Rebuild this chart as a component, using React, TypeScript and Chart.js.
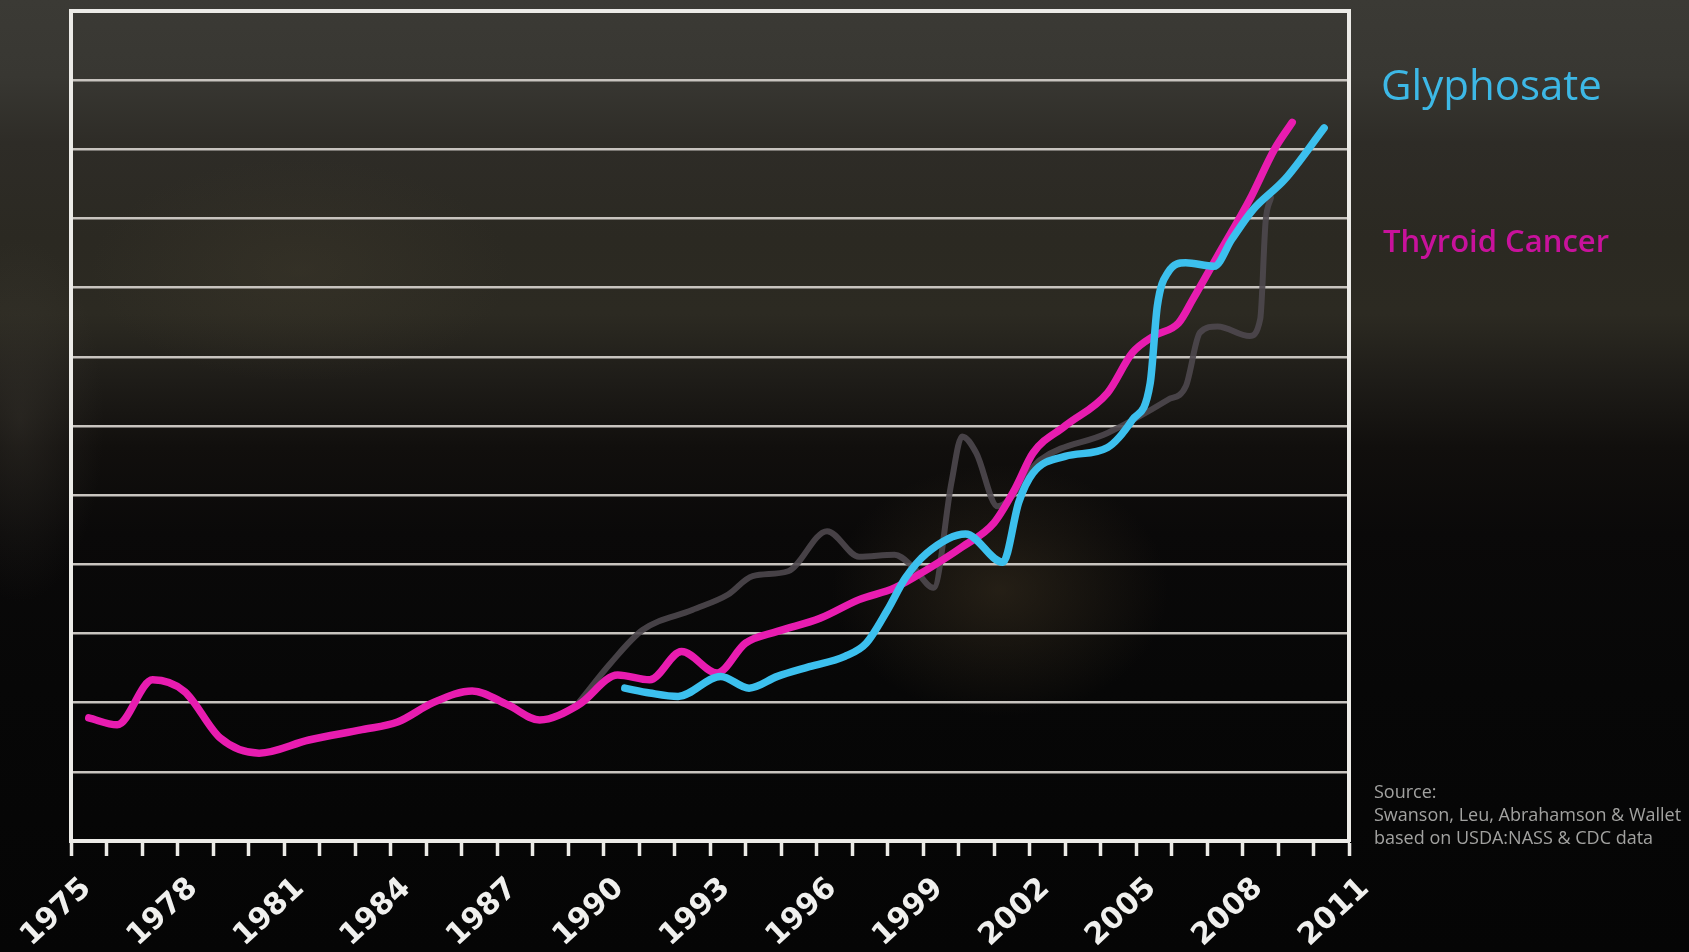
import React, { useEffect, useRef } from 'react';
import { Chart, registerables } from 'chart.js';

Chart.register(...registerables);

// ---------- data ----------
const xTickLabels = ['1975', '1978', '1981', '1984', '1987', '1990', '1993', '1996', '1999', '2002', '2005', '2008', '2011'];

const thyroidYears = [
  1975.5, 1976.3, 1977.3, 1978.2, 1979.2, 1980.3, 1981.7, 1983.2, 1984.2, 1985.2,
  1986.3, 1987.3, 1988.2, 1989.3, 1990.4, 1991.3, 1992.2, 1993.2, 1994.0, 1994.9,
  1996.1, 1997.2, 1998.2, 1999.1, 2000.1, 2001.0, 2001.6, 2002.1, 2003.0, 2004.2,
  2004.9, 2005.5, 2006.2, 2006.6, 2007.3, 2008.2, 2008.9, 2009.4,
];
const thyroidValues = [
  1.78, 1.68, 2.33, 2.16, 1.49, 1.27, 1.46, 1.61, 1.72, 2.0,
  2.17, 1.97, 1.75, 1.97, 2.4, 2.33, 2.74, 2.43, 2.86, 3.03,
  3.22, 3.49, 3.66, 3.92, 4.25, 4.6, 5.1, 5.61, 6.0, 6.48,
  7.06, 7.3, 7.49, 7.83, 8.46, 9.27, 10.0, 10.39,
];

const glyphosateYears = [
  1990.6, 1991.3, 1992.1, 1993.3, 1994.1, 1994.9, 1995.8, 1996.8, 1997.4, 1998.0,
  1998.5, 1999.1, 2000.2, 2001.25, 2001.7, 2002.1, 2003.0, 2004.2, 2004.9, 2005.4,
  2005.6, 2005.9, 2006.4, 2007.2, 2007.7, 2008.3, 2009.2, 2010.3,
];
const glyphosateValues = [
  2.21, 2.14, 2.09, 2.38, 2.21, 2.38, 2.52, 2.67, 2.86, 3.34,
  3.8, 4.16, 4.44, 4.03, 4.9, 5.32, 5.56, 5.69, 6.09, 6.62,
  7.73, 8.22, 8.36, 8.31, 8.7, 9.13, 9.57, 10.31,
];

const ghostYears = [
  1989.3, 1990.2, 1991.1, 1992.5, 1993.5, 1994.2, 1995.2, 1996.3, 1997.2, 1998.2,
  1998.7, 1999.3, 1999.8, 2000.1, 2000.5, 2001.1, 2002.3, 2004.2, 2005.9, 2006.4,
  2006.8, 2007.3, 2008.2, 2008.5, 2008.65, 2008.8,
];
const ghostValues = [
  2.0, 2.57, 3.05, 3.34, 3.56, 3.83, 3.9, 4.48, 4.11, 4.14,
  3.97, 3.66, 5.18, 5.85, 5.61, 4.84, 5.51, 5.9, 6.38, 6.57,
  7.35, 7.44, 7.3, 7.55, 8.95, 9.3,
];

const yMin = 0;
const yMax = 12;

const toPoints = (xs: number[], ys: number[]) => xs.map((x, i) => ({ x, y: ys[i] }));

export default function App() {
  const canvasRef = useRef<HTMLCanvasElement | null>(null);

  useEffect(() => {
    document.body.style.margin = '0';
    const canvas = canvasRef.current;
    if (!canvas) return;
    const white = '#ecebe7';
    const lineCommon = {
      pointRadius: 0,
      cubicInterpolationMode: 'monotone',
      borderCapStyle: 'round',
      borderJoinStyle: 'round',
    };
    const chart = new Chart(canvas, {
      type: 'line',
      data: {
        datasets: [
          {
            label: 'Glyphosate',
            data: toPoints(glyphosateYears, glyphosateValues),
            borderColor: '#3cc0ee',
            borderWidth: 7.5,
            order: 0,
            ...lineCommon,
          },
          {
            label: 'Thyroid Cancer',
            data: toPoints(thyroidYears, thyroidValues),
            borderColor: '#e81cb0',
            borderWidth: 7.5,
            order: 1,
            ...lineCommon,
          },
          {
            label: 'other',
            data: toPoints(ghostYears, ghostValues),
            borderColor: 'rgba(78,72,78,0.9)',
            borderWidth: 6,
            order: 2,
            ...lineCommon,
          },
        ],
      },
      options: {
        animation: false,
        responsive: false,
        layout: { padding: { left: 71, right: 340, top: 11, bottom: 0 } },
        plugins: { legend: { display: false }, tooltip: { enabled: false } },
        scales: {
          x: {
            type: 'linear',
            min: 1975,
            max: 2011,
            afterFit: (s: any) => {
              s.height = 111;
              s.paddingLeft = 0;
              s.paddingRight = 0;
            },
            ticks: {
              stepSize: 1,
              autoSkip: false,
              minRotation: 43,
              maxRotation: 43,
              color: '#f0f0ee',
              padding: 15,
              labelOffset: 16,
              font: { family: 'DejaVu Sans', size: 30, weight: 'bold' },
              callback: (v: any) => {
                const s = String(v);
                return xTickLabels.includes(s) ? s : '';
              },
            },
            grid: {
              display: true,
              drawOnChartArea: false,
              drawTicks: true,
              tickLength: 15,
              tickWidth: 3.5,
              tickColor: white,
            },
            border: { display: true, color: white, width: 4 },
          },
          y: {
            min: yMin,
            max: yMax,
            afterFit: (s: any) => {
              s.width = 0;
              s.paddingTop = 0;
              s.paddingBottom = 0;
            },
            ticks: { display: false, stepSize: 1 },
            grid: {
              drawTicks: false,
              color: (ctx: any) => (ctx.tick && ctx.tick.value === yMax ? white : '#c8c4bf'),
              lineWidth: (ctx: any) => (ctx.tick && ctx.tick.value === yMax ? 4 : 2.5),
            },
            border: { display: true, color: white, width: 4 },
          },
          y2: {
            position: 'right',
            min: yMin,
            max: yMax,
            afterFit: (s: any) => {
              s.width = 0;
              s.paddingTop = 0;
              s.paddingBottom = 0;
            },
            ticks: { display: false },
            grid: { display: false, drawTicks: false },
            border: { display: true, color: white, width: 4 },
          },
        },
      },
    } as any);
    return () => chart.destroy();
  }, []);

  const bg =
    'radial-gradient(ellipse 240px 180px at 1000px 590px, rgba(70,58,38,0.45), rgba(0,0,0,0) 70%),' +
    'radial-gradient(ellipse 300px 160px at 300px 270px, rgba(70,64,48,0.3), rgba(0,0,0,0) 70%),' +
    'radial-gradient(ellipse 120px 260px at 20px 420px, rgba(70,66,58,0.35), rgba(0,0,0,0) 70%),' +
    'linear-gradient(to bottom, #3b3a35 0%, #383732 8%, #2e2c27 15%, #2b2922 25%, #2c2a22 33%, #1e1c18 40%, #110f0d 47%, #0a0909 56%, #070707 72%, #050505 100%)';

  return (
    <div style={{ position: 'fixed', left: 0, top: 0, width: 1689, height: 952, background: bg, overflow: 'hidden' }}>
      <canvas ref={canvasRef} width={1689} height={952} style={{ position: 'absolute', left: 0, top: 0, width: 1689, height: 952 }} />
      <div
        style={{
          position: 'absolute',
          left: 1381,
          top: 63,
          fontFamily: '"Open Sans", sans-serif',
          fontSize: 42,
          lineHeight: '42px',
          color: '#3db8e6',
          whiteSpace: 'nowrap',
        }}
      >
        Glyphosate
      </div>
      <div
        style={{
          position: 'absolute',
          left: 1383,
          top: 225,
          fontFamily: '"Open Sans", sans-serif',
          fontSize: 31,
          fontWeight: 600,
          lineHeight: '31px',
          color: '#c8129c',
          whiteSpace: 'nowrap',
        }}
      >
        Thyroid Cancer
      </div>
      <div
        style={{
          position: 'absolute',
          left: 1374,
          top: 780,
          fontFamily: '"Open Sans", sans-serif',
          fontSize: 18,
          lineHeight: '23px',
          color: '#a2a2a0',
          whiteSpace: 'nowrap',
          letterSpacing: '0px',
        }}
      >
        <div>Source:</div>
        <div>Swanson, Leu, Abrahamson &amp; Wallet</div>
        <div>based on USDA:NASS &amp; CDC data</div>
      </div>
    </div>
  );
}
